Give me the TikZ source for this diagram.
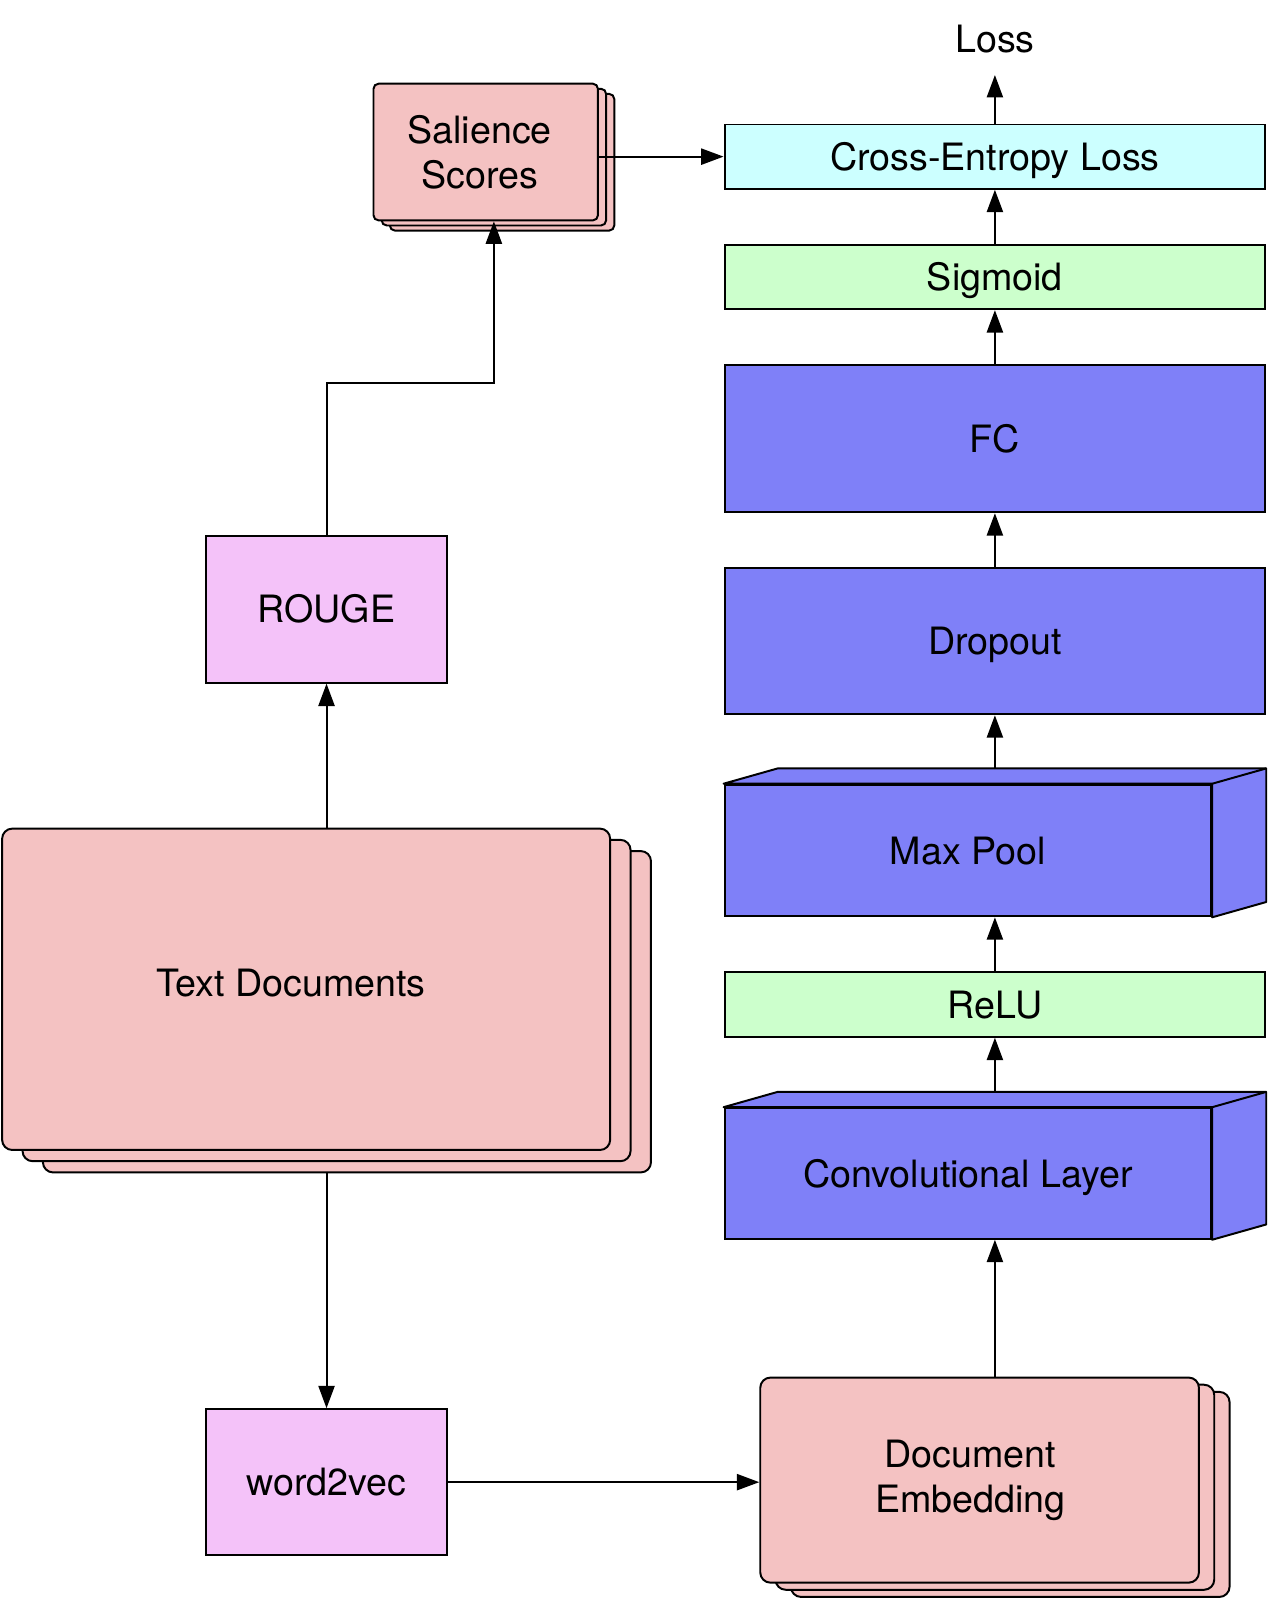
\documentclass[tikz,border=0pt]{standalone}
\usepackage{fontspec}
\setmainfont{TeX Gyre Heros}
\usetikzlibrary{arrows.meta}
\definecolor{lossfill}{HTML}{CCFFFF}
\definecolor{actfill}{HTML}{CCFFCC}
\definecolor{cubefill}{HTML}{7F80F8}
\definecolor{pilefill}{HTML}{F4C2C2}
\definecolor{prepfill}{HTML}{F4C2F9}
\tikzset{>={Triangle[length=12.5pt,width=9pt]}}

\begin{document}
\begin{tikzpicture}[x=0.02cm, y=-0.02cm, line width=1.1pt,
    every node/.style={font=\fontsize{21}{25}\selectfont},
    flat/.style={draw, inner sep=0pt, text height=19.3pt, text depth=4.2pt, minimum width=10.6cm, minimum height=#1},
    flat/.default=1.26cm,
    cube/.style={draw, fill=cubefill, inner sep=0pt, text height=19.3pt, text depth=4.2pt, minimum width=9.54cm, minimum height=#1},
    cubeface/.style={draw, fill=cubefill, line join=round},
    pile/.style={draw, fill=pilefill, inner sep=0pt, align=center},
    prep/.style={draw, fill=prepfill, inner sep=0pt, text height=19.3pt, text depth=4.2pt, minimum width=4.72cm, minimum height=2.86cm}]
     \useasboundingbox (0,0) rectangle (1242,1568);

     % network column
     \node (loss) at (975,38) {Loss};
     \node[flat, fill=lossfill] (ce) at (975,153.5) {Cross-Entropy Loss};
     \node[flat, fill=actfill] (sigmoid) at (975,271.5) {Sigmoid};
     \node[flat=2.88cm, fill=cubefill] (fc) at (975,430) {FC};
     \node[flat=2.86cm, fill=cubefill] (dropout) at (975,628.5) {Dropout};
     \node[cube=2.58cm] (maxpool) at (948.5,833.5) {Max Pool};
     \draw[cubeface] (maxpool.north west) -- ++(53,-15) coordinate (maxpoolback) -| ([shift={(53,-15)}]maxpool.south east) -- (maxpool.south east) -- (maxpool.north east) -- cycle;
     \draw (maxpool.north east) -- ++(53,-15);
     \node[flat, fill=actfill] (relu) at (975,984.5) {ReLU};
     \node[cube=2.56cm] (conv) at (948.5,1150) {Convolutional Layer};
     \draw[cubeface] (conv.north west) -- ++(53,-15) coordinate (convback) -| ([shift={(53,-15)}]conv.south east) -- (conv.south east) -- (conv.north east) -- cycle;
     \draw (conv.north east) -- ++(53,-15);

     % stacks of documents
     \node[pile, rounded corners=0.2cm, minimum width=8.6cm, minimum height=4.02cm] (docemb3) at (990,1464.5) {};
     \node[pile, rounded corners=0.2cm, minimum width=8.6cm, minimum height=4.02cm] (docemb2) at (975,1457.5) {};
     \node[pile, rounded corners=0.2cm, minimum width=8.6cm, minimum height=4.02cm,
       label={[align=center, xshift=-0.18cm]center:Document\\Embedding}] (docemb) at (960,1450.5) {};
     \node[pile, rounded corners=0.2cm, minimum width=11.92cm, minimum height=6.3cm] (textdocs3) at (340,991.5) {};
     \node[pile, rounded corners=0.2cm, minimum width=11.92cm, minimum height=6.3cm] (textdocs2) at (320,980.5) {};
     \node[pile, rounded corners=0.2cm, minimum width=11.92cm, minimum height=6.3cm,
       label={[xshift=-0.3cm, yshift=0.13cm]center:Text Documents}] (textdocs) at (300,969.5) {};
     \node[pile, rounded corners=0.1cm, minimum width=4.4cm, minimum height=2.68cm] (sal3) at (492,159) {};
     \node[pile, rounded corners=0.1cm, minimum width=4.4cm, minimum height=2.68cm] (sal2) at (484,154) {};
     \node[pile, rounded corners=0.1cm, minimum width=4.4cm, minimum height=2.68cm,
       label={[align=center, xshift=-0.12cm]center:Salience\\Scores}] (sal) at (476,149) {};

     \node[prep, minimum height=2.88cm] (rouge) at (320,597) {ROUGE};
     \node[prep] (w2v) at (320,1452.5) {word2vec};

     % connectors
     \draw[->, shorten >=0.3cm] (ce.north) -- (loss.south);
     \draw[->] (sigmoid.north) -- (ce.south);
     \draw[->] (fc.north) -- (sigmoid.south);
     \draw[->] (dropout.north) -- (fc.south);
     \draw[->] (maxpoolback -| dropout.south) -- (dropout.south);
     \draw[->] (relu.north) -- (relu.north |- maxpool.south);
     \draw[->] (convback -| relu.south) -- (relu.south);
     \draw[->] (docemb.north -| relu.south) -- (conv.south -| relu.south);
     \draw[->] (w2v.east) -- (w2v.east -| docemb.west);
     \draw[->] (textdocs3.south -| w2v.north) -- (w2v.north);
     \draw[->] (textdocs.north -| rouge.south) -- (rouge.south);
     \coordinate (bend) at (484,375);
     \draw[->] (rouge.north) |- (bend) -- (bend |- sal.south);
     \draw[->] (sal.east |- ce.west) -- (ce.west);
\end{tikzpicture}
\end{document}
